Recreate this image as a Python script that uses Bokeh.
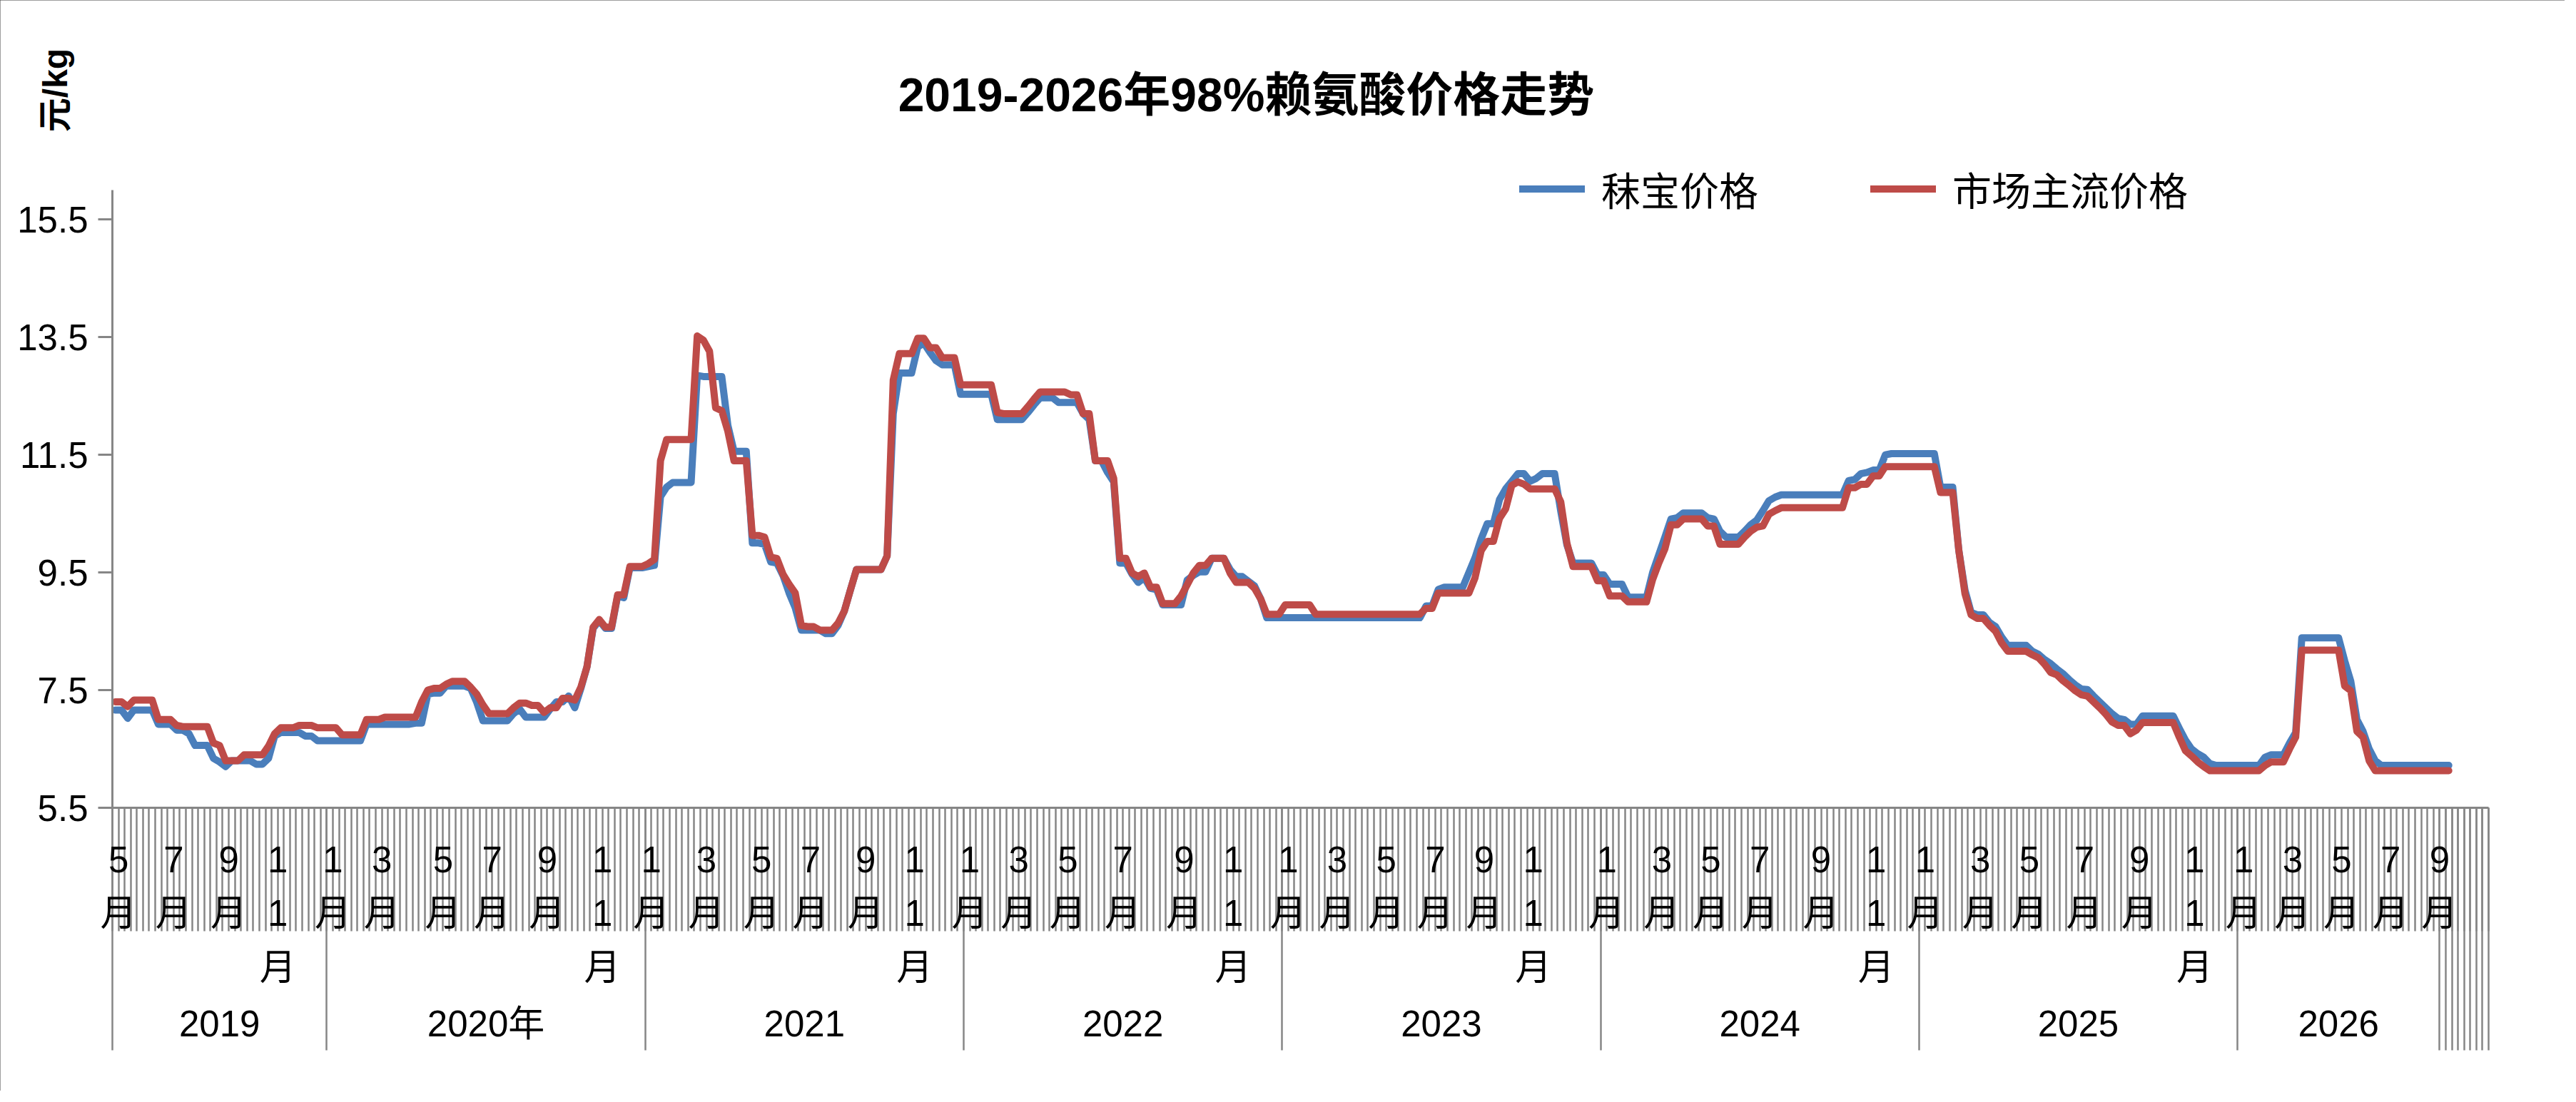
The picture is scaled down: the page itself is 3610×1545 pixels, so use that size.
import numpy as np
from bokeh.plotting import figure
from bokeh.models import (ColumnDataSource, Range1d, LinearAxis, FixedTicker,
                          Label, Legend, LegendItem)
from bokeh.embed import file_html
from bokeh.resources import INLINE

# ---------------- category structure (weekly points) ----------------
YEARS = ["2019", "2020年", "2021", "2022", "2023", "2024", "2025", "2026"]
YEAR_COUNTS = [35, 52, 52, 52, 52, 52, 52, 33]
EXTRA_BLANK = 8
LABEL_MONTHS = [[5, 7, 9, 11], [1, 3, 5, 7, 9, 11], [1, 3, 5, 7, 9, 11],
                [1, 3, 5, 7, 9, 11], [1, 3, 5, 7, 9, 11], [1, 3, 5, 7, 9, 11],
                [1, 3, 5, 7, 9, 11], [1, 3, 5, 7, 9]]
LABEL_OFFSETS = [[0, 9, 18, 26], [0, 8, 18, 26, 35, 44], [0, 9, 18, 26, 35, 43],
                 [0, 8, 16, 25, 35, 43], [0, 8, 16, 24, 32, 40], [0, 9, 17, 25, 35, 44],
                 [0, 9, 17, 26, 35, 44], [0, 8, 16, 24, 32]]

# ---------------- series values (元/kg) ----------------
red_2019 = [7.30, 7.30, 7.22, 7.33, 7.33, 7.33, 7.33, 7.00, 7.00, 7.00,
            6.90, 6.88, 6.88, 6.88, 6.88, 6.88, 6.60, 6.56, 6.30, 6.30,
            6.30, 6.40, 6.40, 6.40, 6.40, 6.55, 6.76, 6.86, 6.86, 6.86,
            6.90, 6.90, 6.90, 6.86, 6.86]
red_2020 = [6.86, 6.86, 6.74, 6.74, 6.74, 6.74, 7.00, 7.00, 7.00, 7.04,
            7.04, 7.04, 7.04, 7.04, 7.04, 7.30, 7.50, 7.53, 7.53, 7.60,
            7.65, 7.65, 7.65, 7.55, 7.43, 7.25, 7.10, 7.10, 7.10, 7.10,
            7.20, 7.28, 7.28, 7.24, 7.24, 7.12, 7.20, 7.20, 7.36, 7.36,
            7.33, 7.55, 7.90, 8.57, 8.70, 8.57, 8.57, 9.12, 9.12, 9.60,
            9.60, 9.60]
red_2021 = [9.65, 9.72, 11.40, 11.76, 11.76, 11.76, 11.76, 11.76, 13.52, 13.45,
            13.26, 12.30, 12.25, 11.90, 11.40, 11.40, 11.40, 10.13, 10.13, 10.10,
            9.76, 9.74, 9.47, 9.30, 9.15, 8.60, 8.58, 8.58, 8.52, 8.52,
            8.52, 8.64, 8.84, 9.20, 9.55, 9.55, 9.55, 9.55, 9.55, 9.78,
            12.77, 13.22, 13.22, 13.22, 13.48, 13.48, 13.32, 13.32, 13.15, 13.15,
            13.15, 12.69]
red_2022 = [12.69, 12.69, 12.69, 12.69, 12.69, 12.22, 12.20, 12.20, 12.20, 12.20,
            12.32, 12.45, 12.57, 12.57, 12.57, 12.57, 12.57, 12.52, 12.52, 12.20,
            12.20, 11.40, 11.40, 11.40, 11.10, 9.74, 9.74, 9.49, 9.43, 9.49,
            9.25, 9.25, 8.97, 8.97, 8.97, 9.10, 9.29, 9.49, 9.62, 9.62,
            9.74, 9.74, 9.74, 9.49, 9.33, 9.33, 9.33, 9.23, 9.05, 8.79,
            8.79, 8.79]
red_2023 = [8.95, 8.95, 8.95, 8.95, 8.95, 8.79, 8.79, 8.79, 8.79, 8.79,
            8.79, 8.79, 8.79, 8.79, 8.79, 8.79, 8.79, 8.79, 8.79, 8.79,
            8.79, 8.79, 8.79, 8.89, 8.89, 9.15, 9.15, 9.15, 9.15, 9.15,
            9.15, 9.41, 9.87, 10.03, 10.03, 10.42, 10.58, 10.98, 11.04, 11.00,
            10.92, 10.92, 10.92, 10.92, 10.92, 10.70, 10.00, 9.60, 9.60, 9.60,
            9.60, 9.36]
red_2024 = [9.36, 9.10, 9.10, 9.10, 9.00, 9.00, 9.00, 9.00, 9.38, 9.66,
            9.90, 10.31, 10.31, 10.41, 10.41, 10.41, 10.41, 10.29, 10.29, 9.98,
            9.98, 9.98, 9.98, 10.10, 10.20, 10.27, 10.29, 10.49, 10.55, 10.60,
            10.60, 10.60, 10.60, 10.60, 10.60, 10.60, 10.60, 10.60, 10.60, 10.60,
            10.94, 10.94, 11.00, 11.00, 11.14, 11.14, 11.30, 11.30, 11.30, 11.30,
            11.30, 11.30]
red_2025 = [11.30, 11.30, 11.30, 10.86, 10.86, 10.86, 9.87, 9.14, 8.78, 8.72,
            8.72, 8.60, 8.50, 8.30, 8.16, 8.16, 8.16, 8.16, 8.10, 8.05,
            7.94, 7.80, 7.76, 7.66, 7.58, 7.49, 7.42, 7.40, 7.30, 7.20,
            7.09, 6.96, 6.90, 6.90, 6.76, 6.82, 6.95, 6.95, 6.95, 6.95,
            6.95, 6.95, 6.70, 6.47, 6.38, 6.28, 6.20, 6.13, 6.13, 6.13,
            6.13, 6.13]
red_2026 = [6.13, 6.13, 6.13, 6.13, 6.22, 6.28, 6.28, 6.28, 6.50, 6.70,
            8.18, 8.18, 8.18, 8.18, 8.18, 8.18, 8.18, 7.57, 7.49, 6.80,
            6.70, 6.30, 6.13, 6.13, 6.13, 6.13, 6.13, 6.13, 6.13, 6.13,
            6.13, 6.13, 6.13, 6.13, 6.13]

blue_2019 = [7.16, 7.16, 7.02, 7.16, 7.16, 7.16, 7.16, 6.92, 6.92, 6.92,
             6.82, 6.82, 6.76, 6.56, 6.56, 6.56, 6.34, 6.28, 6.20, 6.30,
             6.30, 6.30, 6.30, 6.24, 6.24, 6.34, 6.72, 6.78, 6.78, 6.78,
             6.78, 6.72, 6.72, 6.64, 6.64]
blue_2020 = [6.64, 6.64, 6.64, 6.64, 6.64, 6.64, 6.92, 6.92, 6.92, 6.92,
             6.92, 6.92, 6.92, 6.92, 6.94, 6.94, 7.43, 7.45, 7.45, 7.57,
             7.57, 7.57, 7.57, 7.53, 7.29, 6.98, 6.98, 6.98, 6.98, 6.98,
             7.10, 7.18, 7.04, 7.04, 7.04, 7.04, 7.18, 7.30, 7.30, 7.40,
             7.20, 7.53, 7.90, 8.55, 8.68, 8.55, 8.55, 9.10, 9.07, 9.58,
             9.58, 9.58]
blue_2021 = [9.60, 9.62, 10.79, 10.95, 11.03, 11.03, 11.03, 11.03, 12.85, 12.83,
             12.83, 12.83, 12.83, 12.00, 11.56, 11.56, 11.56, 10.00, 10.00, 9.98,
             9.68, 9.66, 9.45, 9.15, 8.90, 8.52, 8.52, 8.52, 8.52, 8.46,
             8.46, 8.60, 8.84, 9.20, 9.55, 9.55, 9.55, 9.55, 9.55, 9.78,
             12.20, 12.89, 12.89, 12.89, 13.33, 13.40, 13.24, 13.10, 13.03, 13.03,
             13.03, 12.53]
blue_2022 = [12.53, 12.53, 12.53, 12.53, 12.53, 12.10, 12.10, 12.10, 12.10, 12.10,
             12.22, 12.35, 12.47, 12.47, 12.47, 12.39, 12.39, 12.39, 12.39, 12.20,
             12.10, 11.40, 11.40, 11.20, 11.04, 9.66, 9.66, 9.47, 9.33, 9.41,
             9.23, 9.21, 8.95, 8.95, 8.95, 8.95, 9.37, 9.45, 9.51, 9.51,
             9.74, 9.74, 9.74, 9.55, 9.43, 9.43, 9.35, 9.27, 9.05, 8.73,
             8.73, 8.73]
blue_2023 = [8.73, 8.73, 8.73, 8.73, 8.73, 8.73, 8.73, 8.73, 8.73, 8.73,
             8.73, 8.73, 8.73, 8.73, 8.73, 8.73, 8.73, 8.73, 8.73, 8.73,
             8.73, 8.73, 8.73, 8.93, 8.93, 9.21, 9.25, 9.25, 9.25, 9.25,
             9.50, 9.75, 10.07, 10.33, 10.33, 10.74, 10.92, 11.05, 11.18, 11.18,
             11.05, 11.10, 11.18, 11.18, 11.18, 10.54, 9.97, 9.66, 9.66, 9.66,
             9.66, 9.46]
blue_2024 = [9.46, 9.30, 9.30, 9.30, 9.08, 9.08, 9.08, 9.08, 9.50, 9.80,
             10.10, 10.41, 10.43, 10.51, 10.51, 10.51, 10.51, 10.43, 10.41, 10.20,
             10.10, 10.10, 10.10, 10.20, 10.31, 10.39, 10.55, 10.72, 10.78, 10.82,
             10.82, 10.82, 10.82, 10.82, 10.82, 10.82, 10.82, 10.82, 10.82, 10.82,
             11.06, 11.08, 11.18, 11.20, 11.24, 11.24, 11.50, 11.52, 11.52, 11.52,
             11.52, 11.52]
blue_2025 = [11.52, 11.52, 11.52, 10.95, 10.95, 10.95, 9.87, 9.20, 8.82, 8.78,
             8.78, 8.65, 8.58, 8.40, 8.26, 8.26, 8.26, 8.26, 8.16, 8.11,
             8.02, 7.95, 7.86, 7.78, 7.68, 7.59, 7.52, 7.51, 7.40, 7.30,
             7.20, 7.10, 7.02, 7.00, 6.92, 6.92, 7.06, 7.06, 7.06, 7.06,
             7.06, 7.06, 6.85, 6.65, 6.50, 6.42, 6.36, 6.25, 6.22, 6.22,
             6.22, 6.22]
blue_2026 = [6.22, 6.22, 6.22, 6.22, 6.36, 6.40, 6.40, 6.40, 6.60, 6.78,
             8.39, 8.39, 8.39, 8.39, 8.39, 8.39, 8.39, 8.00, 7.65, 7.00,
             6.80, 6.50, 6.30, 6.22, 6.22, 6.22, 6.22, 6.22, 6.22, 6.22,
             6.22, 6.22, 6.22, 6.22, 6.22]

Y_TICKS = [5.5, 7.5, 9.5, 11.5, 13.5, 15.5]
Y_MIN, Y_AXIS_TOP = 5.5, 16.0
TITLE = "2019-2026年98%赖氨酸价格走势"
UNIT = "元/kg"
NAME_BLUE = "秣宝价格"
NAME_RED = "市场主流价格"

blue = (blue_2019 + blue_2020 + blue_2021 + blue_2022 + blue_2023 +
        blue_2024 + blue_2025 + blue_2026)
red = (red_2019 + red_2020 + red_2021 + red_2022 + red_2023 +
       red_2024 + red_2025 + red_2026)

# ---------------- styling / layout ----------------
FONT = "Liberation Sans, Noto Sans CJK SC"
BLUE = "#4A7EBB"
RED = "#BE4B48"
GRAY = "#868686"

W, H = 3594, 1529
AX_LEFT = 157          # canvas x of the value axis
AX_RIGHT = 3487        # canvas x of the last category edge
AX_BOTTOM = 1132       # canvas y of the category axis
PX_PER_UNIT = 82.476

n_cat = sum(YEAR_COUNTS) + EXTRA_BLANK
year_starts = [int(v) for v in np.cumsum([0] + YEAR_COUNTS[:-1])]
data_end = sum(YEAR_COUNTS)

cat_px = (AX_RIGHT - AX_LEFT) / n_cat
x0 = -0.5 - AX_LEFT / cat_px
x1 = n_cat - 0.5 + (W - AX_RIGHT) / cat_px
y0 = Y_MIN - (H - AX_BOTTOM) / PX_PER_UNIT
y1 = Y_MIN + AX_BOTTOM / PX_PER_UNIT

boundaries = [k - 0.5 for k in range(n_cat + 1)]
separators = [s - 0.5 for s in year_starts] + [k - 0.5 for k in range(data_end, n_cat + 1)]

overrides = {b: "" for b in boundaries}
for ys, months, offs in zip(year_starts, LABEL_MONTHS, LABEL_OFFSETS):
    for m, o in zip(months, offs):
        txt = "\n".join(list(str(m))) + "\n月"
        overrides[float(ys + o + 0.5)] = txt

year_centers = [ys + c / 2 - 0.5 for ys, c in zip(year_starts, YEAR_COUNTS)]
year_overrides = {float(c): t for c, t in zip(year_centers, YEARS)}

p = figure(width=W, height=H, output_backend="svg", toolbar_location=None,
           x_axis_type=None, y_axis_type=None,
           x_range=Range1d(x0, x1), y_range=Range1d(y0, y1),
           min_border=0)
p.outline_line_color = None
p.background_fill_color = "white"
p.border_fill_color = "white"
p.styles = {"outline": "5px solid #3c3c3c", "outline-offset": "-5px"}

src = ColumnDataSource(dict(x=list(range(len(blue))), blue=blue, red=red))
rb = p.line("x", "blue", source=src, line_color=BLUE, line_width=10,
            line_join="round", line_cap="round")
rr = p.line("x", "red", source=src, line_color=RED, line_width=10,
            line_join="round", line_cap="round")

# value axis, pinned at the first category edge
yax = LinearAxis(ticker=FixedTicker(ticks=Y_TICKS, minor_ticks=[]),
                 fixed_location=-0.5, bounds=(Y_MIN, Y_AXIS_TOP))
yax.axis_line_color = GRAY
yax.axis_line_width = 3
yax.major_tick_line_color = GRAY
yax.major_tick_line_width = 3
yax.major_tick_out = 20
yax.major_tick_in = 0
yax.minor_tick_line_color = None
yax.major_label_standoff = 14
yax.major_label_text_font = FONT
yax.major_label_text_font_size = "51px"
yax.major_label_text_color = "black"
p.add_layout(yax, "left")

# category axis: hatch ticks + month labels, pinned at y = 5.5
xax = LinearAxis(ticker=FixedTicker(ticks=boundaries, minor_ticks=separators),
                 fixed_location=Y_MIN, bounds=(-0.5, n_cat - 0.5))
xax.axis_line_color = GRAY
xax.axis_line_width = 3
xax.major_tick_line_color = GRAY
xax.major_tick_line_width = 2.5
xax.major_tick_out = 173
xax.major_tick_in = 0
xax.minor_tick_line_color = GRAY
xax.minor_tick_line_width = 2.5
xax.minor_tick_out = 340
xax.minor_tick_in = 0
xax.major_label_overrides = overrides
xax.major_label_standoff = -296
xax.major_label_text_font = FONT
xax.major_label_text_font_size = "51px"
xax.major_label_text_line_height = 1.33
xax.major_label_text_color = "black"
p.add_layout(xax, "below")

# category axis: year labels, pinned at the same line
yrax = LinearAxis(ticker=FixedTicker(ticks=year_centers, minor_ticks=[]),
                  fixed_location=Y_MIN)
yrax.axis_line_color = None
yrax.major_tick_line_color = None
yrax.minor_tick_line_color = None
yrax.major_tick_out = 0
yrax.major_tick_in = 0
yrax.major_label_overrides = year_overrides
yrax.major_label_standoff = 274
yrax.major_label_text_font = FONT
yrax.major_label_text_font_size = "51px"
yrax.major_label_text_color = "black"
p.add_layout(yrax, "below")

# title & unit label (screen offsets from the frame's bottom-left corner)
p.add_layout(Label(x=1746, y=H - 132, x_units="screen", y_units="screen",
                   text=TITLE, text_align="center", text_baseline="middle",
                   text_font=FONT, text_font_size="66px", text_font_style="bold",
                   text_color="black"))
p.add_layout(Label(x=77, y=H - 126, x_units="screen", y_units="screen",
                   text=UNIT, angle=np.pi / 2, text_align="center",
                   text_baseline="middle", text_font=FONT, text_font_size="48px",
                   text_font_style="bold", text_color="black"))

legend = Legend(items=[LegendItem(label=NAME_BLUE, renderers=[rb]),
                       LegendItem(label=NAME_RED, renderers=[rr])],
                location=(2129, H - 304), orientation="horizontal",
                glyph_width=92, glyph_height=55, label_height=55,
                label_standoff=23, spacing=157, padding=0, margin=0,
                border_line_color=None, background_fill_alpha=0,
                label_text_font=FONT, label_text_font_size="55px",
                label_text_color="black")
p.add_layout(legend)

open("out.html", "w").write(file_html(p, INLINE))
